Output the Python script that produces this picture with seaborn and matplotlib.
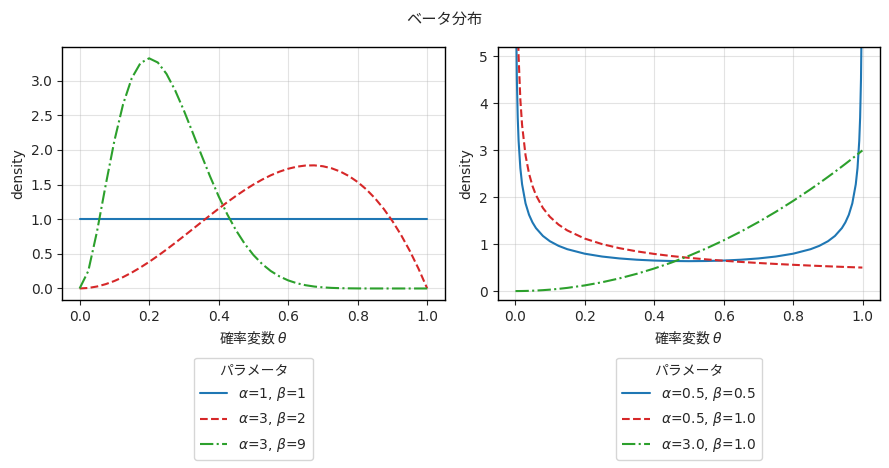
import pandas as pd
import matplotlib
matplotlib.use("Agg")
import matplotlib.pyplot as plt
import seaborn as sns

# left panel values
theta_left = [0.0, 0.025, 0.05, 0.075, 0.1, 0.125, 0.15, 0.175, 0.2, 0.225,
              0.25, 0.275, 0.3, 0.325, 0.35, 0.375, 0.4, 0.425, 0.45, 0.475,
              0.5, 0.525, 0.55, 0.575, 0.6, 0.625, 0.65, 0.675, 0.7, 0.725,
              0.75, 0.775, 0.8, 0.825, 0.85, 0.875, 0.9, 0.925, 0.95, 0.975, 1.0]
dens_1_1 = [1.0] * len(theta_left)
dens_3_2 = [0.0, 0.0073, 0.0285, 0.0624, 0.108, 0.1641, 0.2295, 0.3032, 0.384, 0.4708,
            0.5625, 0.6579, 0.756, 0.8556, 0.9555, 1.0547, 1.152, 1.2463, 1.3365, 1.4214,
            1.5, 1.5711, 1.6335, 1.6862, 1.728, 1.7578, 1.7745, 1.7769, 1.764, 1.7346,
            1.6875, 1.6217, 1.536, 1.4293, 1.3005, 1.1484, 0.972, 0.7701, 0.5415, 0.2852, 0.0]
dens_3_9 = [0.0, 0.2527, 0.821, 1.4923, 2.1308, 2.6576, 3.0349, 3.2532, 3.3219, 3.2613,
            3.0972, 2.8574, 2.5682, 2.2532, 1.9321, 1.6207, 1.3302, 1.0684, 0.8393, 0.6446,
            0.4834, 0.3536, 0.2518, 0.1742, 0.1168, 0.0756, 0.0471, 0.0281, 0.0159, 0.0085,
            0.0043, 0.002, 0.0008, 0.0003, 0.0001, 0.0, 0.0, 0.0, 0.0, 0.0, 0.0]

# right panel values
theta_right = [0.001, 0.002, 0.003, 0.005, 0.0075, 0.01, 0.015, 0.02, 0.03, 0.04,
               0.05, 0.06, 0.08, 0.1, 0.125, 0.15, 0.2, 0.25, 0.3, 0.35,
               0.4, 0.45, 0.5, 0.55, 0.6, 0.65, 0.7, 0.75, 0.8, 0.85,
               0.875, 0.9, 0.92, 0.94, 0.95, 0.96, 0.97, 0.98, 0.985, 0.99,
               0.9925, 0.995, 0.997, 0.998, 0.999]
dens_05_05 = [10.07, 7.125, 5.82, 4.513, 3.689, 3.199, 2.619, 2.274, 1.866, 1.624,
              1.461, 1.34, 1.173, 1.061, 0.9625, 0.8914, 0.7958, 0.7351, 0.6946, 0.6674,
              0.6497, 0.6398, 0.6366, 0.6398, 0.6497, 0.6674, 0.6946, 0.7351, 0.7958, 0.8914,
              0.9625, 1.061, 1.173, 1.34, 1.461, 1.624, 1.866, 2.274, 2.619, 3.199,
              3.689, 4.513, 5.82, 7.125, 10.07]
dens_05_10 = [15.81, 11.18, 9.129, 7.071, 5.774, 5.0, 4.082, 3.536, 2.887, 2.5,
              2.236, 2.041, 1.768, 1.581, 1.414, 1.291, 1.118, 1.0, 0.9129, 0.8452,
              0.7906, 0.7454, 0.7071, 0.6742, 0.6455, 0.6202, 0.5976, 0.5774, 0.559, 0.5423,
              0.5345, 0.527, 0.5213, 0.5157, 0.513, 0.5103, 0.5077, 0.5051, 0.5038, 0.5025,
              0.5019, 0.5013, 0.5008, 0.5005, 0.5003]
dens_30_10 = [0.0, 0.0, 0.0, 0.0001, 0.0002, 0.0003, 0.0007, 0.0012, 0.0027, 0.0048,
              0.0075, 0.0108, 0.0192, 0.03, 0.0469, 0.0675, 0.12, 0.1875, 0.27, 0.3675,
              0.48, 0.6075, 0.75, 0.9075, 1.08, 1.2675, 1.47, 1.6875, 1.92, 2.1675,
              2.2969, 2.43, 2.5392, 2.6508, 2.7075, 2.7648, 2.8227, 2.8812, 2.9107, 2.9403,
              2.9551, 2.97, 2.982, 2.988, 2.994]

left_labels = ["$\\alpha$=1, $\\beta$=1", "$\\alpha$=3, $\\beta$=2", "$\\alpha$=3, $\\beta$=9"]
right_labels = ["$\\alpha$=0.5, $\\beta$=0.5", "$\\alpha$=0.5, $\\beta$=1.0", "$\\alpha$=3.0, $\\beta$=1.0"]

sns.set_style("ticks")
plt.rcParams['font.family'] = ['DejaVu Sans', 'Noto Sans CJK JP']
plt.rcParams['axes.unicode_minus'] = False

colors = ['#1f77b4', '#d62728', '#2ca02c']
styles = ['-', '--', '-.']

fig, axes = plt.subplots(1, 2, figsize=(8.89, 4.68), dpi=100)
fig.subplots_adjust(left=0.07, right=0.99, top=0.9, bottom=0.359, wspace=0.139)

panels = [
    (axes[0], theta_left, [dens_1_1, dens_3_2, dens_3_9], left_labels),
    (axes[1], theta_right, [dens_05_05, dens_05_10, dens_30_10], right_labels),
]

for ax, xs, series, labels in panels:
    for ys, lab, c, ls in zip(series, labels, colors, styles):
        df = pd.DataFrame({'theta': xs, 'density': ys})
        sns.lineplot(data=df, x='theta', y='density', ax=ax, color=c,
                     linestyle=ls, linewidth=1.5, label=lab)
    ax.grid(True, color='#b0b0b0', alpha=0.35, linewidth=0.8)
    # mathtext strings do not fall back, so the CJK family goes first here
    ax.set_xlabel('確率変数 $\\theta$', fontsize=10, fontfamily='Noto Sans CJK JP')
    ax.set_ylabel('density', fontsize=10)
    ax.set_xlim(-0.05, 1.05)
    ax.tick_params(labelsize=10)
    for sp in ax.spines.values():
        sp.set_color('black')
        sp.set_linewidth(1.0)
    ax.legend(title='パラメータ', loc='upper center', bbox_to_anchor=(0.5, -0.2),
              fontsize=10, title_fontsize=10, labelspacing=0.55)

axes[1].set_ylim(-0.19, 5.2)

fig.suptitle('ベータ分布', fontsize=11, y=0.975)
fig.savefig('out.png', dpi=100)
